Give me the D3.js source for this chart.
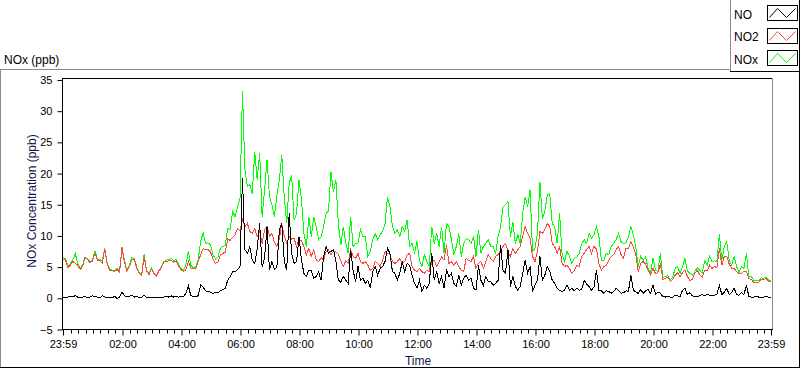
<!DOCTYPE html>
<html>
<head>
<meta charset="utf-8">
<script src="https://cdn.jsdelivr.net/npm/d3@7"></script>
<style>
  body { margin: 0; background: #fff; }
  svg text { font-family: "Liberation Sans", Arial, sans-serif; }
</style>
</head>
<body>
<svg id="chart" width="800" height="369"></svg>
<script>
// one sample every 5 minutes, 23:59 -> 23:59 next day
const noData = [
  0.2,0.1,0.2,0.3,0.3,0.4,0.2,0.1,0.2,0.3, 0.1,0.2,0.4,0.3,0.2,0.1,0.4,0.2,0.1,0.2,
  0.1,0.3,0.0,0.2,1.0,0.4,0.2,0.3,0.5,0.2, 0.3,0.1,0.2,0.5,0.1,0.2,0.1,0.2,0.1,0.2,
  0.1,0.2,0.3,0.2,0.4,0.2,0.3,0.2,0.3,0.3, 0.8,2.0,0.4,0.3,0.3,0.4,2.2,1.8,
  1.2,1.1,1.0,0.8,0.9,0.9,1.2,1.4,1.6,2.9, 3.5,4.3,4.2,4.6,5.1,19.3,7.8,7.2,8.3,6.1,
  5.6,8.0,12.0,5.0,6.5,11.5,4.5,5.9,4.6,5.0, 11.0,12.0,6.0,4.5,13.6,7.2,5.6,5.9,9.9,6.1,
  4.0,3.5,4.5,4.5,3.2,3.5,4.2,2.9,6.7,8.3, 7.2,7.5,7.8,6.0,2.9,2.6,3.5,2.9,
  2.4,7.8,4.5,2.7,5.1,2.9,3.2,2.4,2.9,1.6, 4.3,5.1,3.7,4.8,5.1,5.9,8.0,7.2,4.3,4.0,
  2.9,4.0,5.9,4.3,5.6,5.3,3.7,2.4,1.6,2.9, 1.1,2.1,1.6,2.4,7.2,2.9,4.3,2.4,3.5,1.6,
  4.5,3.5,4.0,2.4,1.9,3.7,2.1,3.2,3.7,2.9, 3.2,1.6,1.3,5.3,2.9,2.1,3.5,2.7,2.7,
  2.1,2.4,2.9,8.6,4.5,4.0,7.8,1.9,3.5,1.9, 1.3,1.9,4.0,6.1,4.0,5.1,1.1,2.1,2.9,6.7,
  2.9,3.7,5.1,4.3,2.9,2.4,1.6,1.3,1.1,1.3, 2.1,1.3,1.6,1.2,1.6,1.3,1.4,2.9,2.3,1.9,
  1.3,1.8,4.5,1.3,1.2,0.8,1.2,1.1,0.8,1.1, 1.6,1.3,0.8,0.9,1.2,1.1,3.7,
  1.3,1.0,0.8,1.4,0.8,1.2,1.4,0.8,2.1,0.7, 1.0,0.8,0.3,0.2,0.3,0.2,0.2,0.5,0.4,0.2,
  1.3,1.6,0.6,0.9,0.4,0.3,0.3,0.4,0.6,0.4, 0.6,0.5,0.4,0.5,0.6,2.1,0.6,1.0,1.6,0.6,
  0.9,1.6,0.6,0.5,0.9,0.6,2.1,0.3,0.2,0.2, 0.3,0.2,0.2,0.2,0.3,0.2,0.2
];

const no2Data = [
  6.3,6.2,4.9,5.3,5.9,5.6,5.3,4.6,5.2,6.5, 6.2,5.7,6.0,7.2,6.1,6.0,5.7,7.9,5.4,4.5,
  4.4,4.3,4.6,4.2,8.0,5.8,4.3,5.1,6.1,6.3, 4.8,4.0,3.7,6.6,4.4,3.8,4.7,4.0,3.6,4.4,
  4.9,5.8,5.9,6.0,6.1,5.8,6.0,5.2,4.6,4.3, 4.6,5.9,4.9,4.7,4.8,5.9,7.0,8.0,
  7.8,7.8,7.4,6.3,5.6,5.8,6.9,7.2,7.4,9.5, 9.3,9.8,10.2,11.2,10.8,12.6,11.5,12.0,10.7,10.4,
  11.2,9.9,10.8,8.8,11.0,11.5,10.0,10.4,9.0,8.3, 9.5,12.0,10.0,8.8,9.9,9.5,9.6,8.3,9.5,9.2,
  8.3,7.0,8.0,6.7,7.8,6.1,5.9,6.5,6.1,7.5, 7.8,7.0,7.5,7.5,7.0,6.0,5.1,6.0,
  5.6,7.8,6.7,6.4,7.2,5.9,5.6,5.9,5.3,4.5, 4.8,5.9,5.6,5.1,6.1,7.5,7.2,7.0,5.9,5.6,
  5.9,6.4,5.6,5.9,7.0,7.2,5.1,4.5,4.3,4.8, 4.3,4.0,4.5,4.3,5.9,6.1,5.1,5.9,6.7,6.1,
  8.6,5.6,5.9,5.3,5.9,5.1,4.5,4.3,6.4,6.1, 5.9,6.7,4.8,5.6,5.9,4.8,5.9,7.0,6.4,
  5.9,6.7,7.0,7.8,8.3,8.8,7.5,6.7,8.0,7.2, 7.8,8.3,9.9,11.5,10.4,9.6,6.7,5.9,7.5,10.7,
  10.4,11.0,12.0,11.5,8.8,8.3,7.2,8.3,5.6,5.1, 5.3,4.8,4.0,4.4,5.3,5.1,6.7,7.2,7.8,8.3,
  7.2,8.3,7.9,5.6,4.5,5.1,5.3,6.1,6.7,7.0, 7.8,8.3,7.0,6.4,8.0,8.0,9.1,
  8.3,7.0,4.3,5.6,5.9,5.5,4.5,3.7,4.8,4.0, 4.1,5.6,3.0,3.2,3.4,2.7,3.0,3.7,4.1,3.5,
  4.1,4.5,3.5,2.9,3.0,4.0,4.5,3.8,3.4,4.4, 4.4,5.3,4.8,5.1,4.9,8.0,5.3,6.7,6.7,5.5,
  4.8,4.8,4.3,3.9,4.0,4.3,4.3,3.2,3.0,2.6, 2.6,2.6,3.1,3.0,3.2,2.7,2.7
];

const noxData = [
  6.5,6.4,5.1,5.6,6.2,7.2,5.5,4.9,5.4,6.6, 6.3,5.9,6.2,7.6,6.3,6.2,6.0,8.0,5.5,4.7,
  4.5,4.4,4.8,4.4,8.2,6.1,4.5,5.3,6.5,6.4, 5.0,4.1,3.8,7.1,4.5,4.0,4.8,4.1,3.7,4.5,
  5.0,5.9,6.1,6.2,6.4,6.0,6.2,5.4,4.8,4.5, 5.4,7.5,5.3,4.9,5.0,6.2,9.2,10.5,
  8.8,8.9,8.6,7.0,6.3,6.6,8.0,8.3,8.5,11.2, 11.0,13.9,13.1,14.7,16.0,33.2,20.6,17.9,18.2,16.8,
  23.5,19.0,23.3,13.1,17.4,22.2,16.3,15.0,13.1,16.5, 19.0,23.0,16.3,12.0,18.4,19.8,12.5,13.6,19.0,15.8,
  10.4,8.3,13.1,9.9,13.0,11.5,9.4,9.9,11.5,13.6, 14.0,20.3,17.0,19.0,12.0,8.5,11.5,9.0,
  7.2,13.1,8.3,8.8,8.8,11.0,9.9,9.9,6.7,7.5, 9.4,10.4,9.4,10.2,10.7,12.0,16.3,14.7,11.5,10.4,
  11.0,9.9,11.5,10.7,12.6,8.3,8.8,7.2,9.1,6.1, 5.1,7.0,5.9,5.1,11.5,8.8,10.4,8.3,11.5,7.2,
  12.0,11.5,9.4,7.0,8.3,10.4,6.7,8.8,9.6,9.4, 8.8,9.9,6.7,11.0,7.2,8.3,8.8,9.4,8.3,
  8.3,7.2,9.9,11.5,14.7,15.0,15.5,9.9,12.3,8.8, 10.2,8.8,13.6,16.3,14.7,17.4,7.5,8.0,10.4,18.7,
  12.8,13.9,16.6,16.8,12.0,11.5,8.8,13.6,7.2,5.9, 7.5,6.8,5.6,6.4,6.6,7.2,8.8,9.4,8.8,10.4,
  9.6,10.2,11.5,9.9,6.1,6.1,7.2,7.0,8.3,8.8, 9.4,10.4,9.1,8.8,8.9,9.8,11.5,
  10.2,8.2,5.1,6.7,6.1,6.6,4.8,4.1,6.4,4.5, 4.3,7.2,3.3,3.5,3.6,3.0,3.3,4.8,5.1,4.0,
  5.1,6.4,4.4,4.0,3.7,4.3,4.9,4.5,4.0,6.0, 5.3,6.8,5.9,6.0,5.9,10.3,6.1,8.3,9.1,6.1,
  5.3,6.7,5.1,4.1,5.1,4.8,7.2,3.4,3.5,2.9, 2.9,2.8,3.3,3.2,3.4,2.9,2.8
];

const seriesNames = ['NO', 'NO2', 'NOx'];
const seriesColors = ['#000000', '#ff4444', '#00ff00'];
const yTicks = [-5, 0, 5, 10, 15, 20, 25, 30, 35];
const xTickLabels = ['23:59', '02:00', '04:00', '06:00', '08:00', '10:00', '12:00',
                     '14:00', '16:00', '18:00', '20:00', '22:00', '23:59'];

const svg = d3.select('#chart');
const plot = {left: 63, right: 771, top: 80, bottom: 329.5};

const start = new Date(2020, 0, 1, 23, 59);
const end = new Date(2020, 0, 2, 23, 59);
const times = noData.map((d, i) => d3.timeMinute.offset(start, i * 5));
const xTicks = xTickLabels.map((s, k) => {
  if (k === 0) return start;
  const [h, m] = s.split(':').map(Number);
  return new Date(2020, 0, 2, h, m);
});

const x = d3.scaleTime().domain([start, end]).range([plot.left, plot.right]);
const y = d3.scaleLinear().domain([-5, 35]).range([plot.bottom, plot.top]);

// outer panel + legend frame
function hline(x1, x2, yy, c) {
  svg.append('line').attr('x1', x1).attr('x2', x2).attr('y1', yy).attr('y2', yy).attr('stroke', c);
}
function vline(xx, y1, y2, c) {
  svg.append('line').attr('x1', xx).attr('x2', xx).attr('y1', y1).attr('y2', y2).attr('stroke', c);
}
hline(0, 730, 69.5, '#8c8c8c');
vline(0.5, 69, 368, '#8c8c8c');
hline(0, 800, 367.5, '#000');
vline(799.5, 0, 368, '#000');
vline(730.5, 0, 72, '#8c8c8c');
hline(730, 800, 71.5, '#000');

svg.append('text').attr('x', 4).attr('y', 63.5)
  .style('font-size', '12px').attr('fill', '#000').text('NOx (ppb)');

// plot frame
vline(62.5, 78, 330, '#000');
hline(62, 773, 78.5, '#000');
vline(772.5, 78, 330, '#8c8c8c');
hline(62, 773, 329.5, '#000');

// y axis
const yAxis = svg.append('g')
  .attr('transform', 'translate(62.5,0)')
  .call(d3.axisLeft(y).tickValues(yTicks).tickSize(5).tickPadding(5).tickSizeOuter(0));
yAxis.select('.domain').remove();
yAxis.selectAll('text').style('font-size', '11px').attr('fill', '#000');

// x axis
const xAxis = svg.append('g')
  .attr('transform', `translate(0,${plot.bottom})`)
  .call(d3.axisBottom(x).tickValues(xTicks).tickFormat(d3.timeFormat('%H:%M'))
    .tickSize(6).tickPadding(5).tickSizeOuter(0));
xAxis.select('.domain').remove();
xAxis.selectAll('text').style('font-size', '11px').attr('fill', '#000');

const minor = d3.timeMinute.every(15).range(start, end)
  .filter(t => xTicks.every(m => Math.abs(t - m) > 5 * 60000));
svg.append('g').selectAll('line').data(minor).join('line')
  .attr('x1', d => Math.round(x(d)) + 0.5).attr('x2', d => Math.round(x(d)) + 0.5)
  .attr('y1', plot.bottom).attr('y2', plot.bottom + 4)
  .attr('stroke', '#000');

svg.append('text')
  .attr('transform', 'translate(35.5,201) rotate(-90)')
  .attr('text-anchor', 'middle').style('font-size', '12px').attr('fill', '#14144a')
  .text('NOx Concentration (ppb)');
svg.append('text')
  .attr('x', 418).attr('y', 365).attr('text-anchor', 'middle')
  .style('font-size', '12px').attr('fill', '#14144a').text('Time');

// series
svg.append('clipPath').attr('id', 'clip').append('rect')
  .attr('x', plot.left).attr('y', 79).attr('width', plot.right - plot.left + 1).attr('height', plot.bottom - 79);

const line = d3.line().x((d, i) => x(times[i])).y(d => y(d));
const drawOrder = [[noxData, seriesColors[2]], [no2Data, seriesColors[1]], [noData, seriesColors[0]]];
const lines = svg.append('g').attr('clip-path', 'url(#clip)');
drawOrder.forEach(([data, color]) => {
  lines.append('path').datum(data)
    .attr('d', line).attr('fill', 'none').attr('stroke', color)
    .attr('stroke-width', 1).style('shape-rendering', 'crispEdges');
});

// legend
const legend = svg.append('g');
const legendRows = [18.5, 40.5, 64];
seriesNames.forEach((name, k) => {
  legend.append('text').attr('x', 734).attr('y', legendRows[k])
    .style('font-size', '12px').attr('fill', '#000').text(name);
  const by = [5.5, 28.5, 50.5][k];
  legend.append('rect').attr('x', 767.5).attr('y', by).attr('width', 30).attr('height', 15)
    .attr('fill', '#fff').attr('stroke', '#000');
  const zig = [[2, 12], [10, 3], [19, 12], [28, 3]];
  legend.append('polyline')
    .attr('points', zig.map(p => `${767.5 + p[0]},${by + p[1]}`).join(' '))
    .attr('fill', 'none').attr('stroke', seriesColors[k]);
});
</script>
</body>
</html>
